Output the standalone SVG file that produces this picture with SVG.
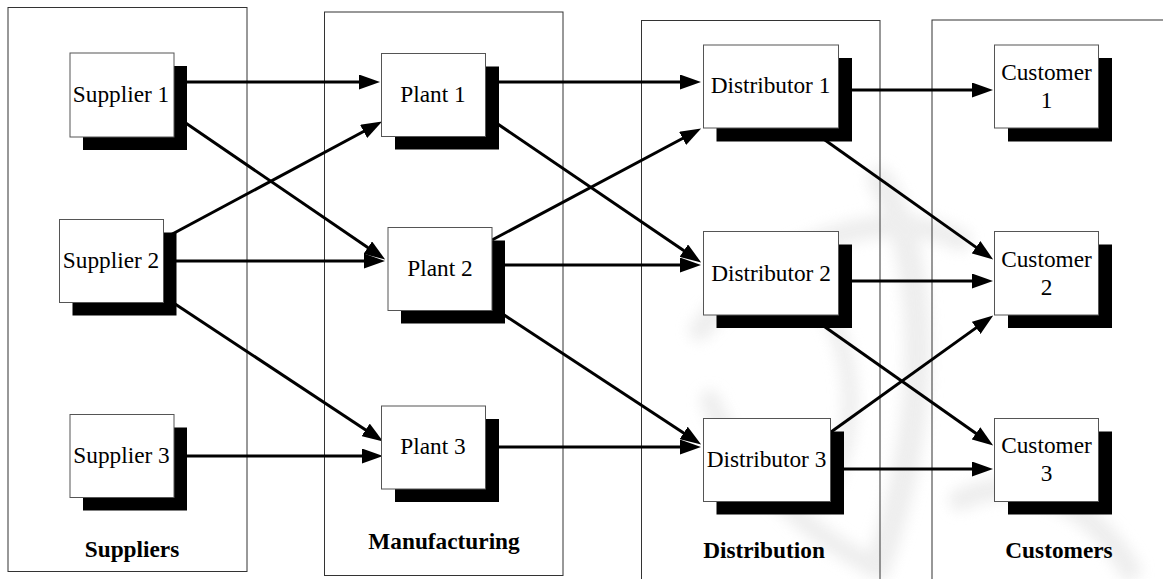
<svg xmlns="http://www.w3.org/2000/svg" width="1163" height="579" viewBox="0 0 1163 579">
  <style>
    .panel { fill: none; stroke: #333; stroke-width: 1; }
    .box { fill: #fff; stroke: #555; stroke-width: 1; }
    .shadow { fill: #000; }
    .lbl { font-family: "Liberation Serif", "Times New Roman", serif; font-size: 23.3px; fill: #000; text-anchor: middle; }
    .title { font-family: "Liberation Serif", "Times New Roman", serif; font-size: 23.3px; font-weight: bold; fill: #000; text-anchor: middle; }
    .conn line { stroke: #000; stroke-width: 3; marker-end: url(#arrow); }
    .seal { fill: none; stroke: #e8e8e8; stroke-linecap: round; }
  </style>
  <defs>
    <marker id="arrow" markerUnits="userSpaceOnUse" markerWidth="21" markerHeight="15" viewBox="0 0 21 15" refX="11" refY="7.5" orient="auto">
      <path d="M0,0 L21,7.5 L0,15 Z" fill="#000"/>
    </marker>
    <filter id="soft" x="-20%" y="-20%" width="140%" height="140%">
      <feGaussianBlur stdDeviation="7"/>
    </filter>
  </defs>
  <rect width="1163" height="579" fill="#fff"/>

  <!-- faint background emblem -->
  <g id="backdrop" class="seal" filter="url(#soft)" opacity="0.75">
    <path d="M700,330 C760,250 880,200 960,240" stroke-width="22"/>
    <path d="M880,180 C930,260 930,420 880,560" stroke-width="26"/>
    <path d="M710,400 C740,470 800,530 880,570" stroke-width="20"/>
    <path d="M960,500 C1020,470 1090,500 1130,570" stroke-width="22"/>
    <path d="M820,300 C860,360 860,440 820,500" stroke-width="16"/>
  </g>

  <!-- stage panels -->
  <g id="stage-suppliers">
    <rect class="panel" x="8" y="7.5" width="239" height="564"/>
    <text class="title" x="132" y="557">Suppliers</text>
  </g>
  <g id="stage-manufacturing">
    <rect class="panel" x="324.5" y="12" width="238.5" height="563.5"/>
    <text class="title" x="444" y="549">Manufacturing</text>
  </g>
  <g id="stage-distribution">
    <rect class="panel" x="641.5" y="20.5" width="238.5" height="570"/>
    <text class="title" x="764" y="558">Distribution</text>
  </g>
  <g id="stage-customers">
    <rect class="panel" x="932" y="20" width="250" height="570"/>
    <text class="title" x="1059" y="558">Customers</text>
  </g>

  <!-- flows between stages -->
  <g id="connectors" class="conn">
    <line x1="174" y1="82" x2="370" y2="82"/>
    <line x1="174" y1="115" x2="376.9" y2="253.8"/>
    <line x1="163" y1="239" x2="373.3" y2="126.2"/>
    <line x1="163" y1="261" x2="375" y2="261"/>
    <line x1="163" y1="296" x2="374.8" y2="435.9"/>
    <line x1="174" y1="456" x2="373" y2="456"/>

    <line x1="486" y1="82" x2="691" y2="82"/>
    <line x1="486" y1="116" x2="692.9" y2="256.8"/>
    <line x1="492" y1="240" x2="692.3" y2="133.2"/>
    <line x1="492" y1="265" x2="691" y2="265"/>
    <line x1="492" y1="307" x2="692.8" y2="439"/>
    <line x1="486" y1="447" x2="691" y2="447"/>

    <line x1="839" y1="90" x2="983" y2="90"/>
    <line x1="808" y1="128" x2="985" y2="253.6"/>
    <line x1="839" y1="281" x2="983" y2="281"/>
    <line x1="808" y1="315" x2="985" y2="439.7"/>
    <line x1="831" y1="432" x2="985.1" y2="321.4"/>
    <line x1="831" y1="469" x2="983" y2="469"/>
  </g>

  <!-- suppliers -->
  <g id="supplier-1">
    <rect class="shadow" x="83" y="66" width="104" height="84"/>
    <rect class="box" x="70" y="53" width="104" height="84"/>
    <text class="lbl" x="121" y="102">Supplier 1</text>
  </g>
  <g id="supplier-2">
    <rect class="shadow" x="72.5" y="232.5" width="104" height="83"/>
    <rect class="box" x="59.5" y="219.5" width="104" height="83"/>
    <text class="lbl" x="111" y="268">Supplier 2</text>
  </g>
  <g id="supplier-3">
    <rect class="shadow" x="83" y="427.5" width="104" height="83"/>
    <rect class="box" x="70" y="414.5" width="104" height="83"/>
    <text class="lbl" x="121.5" y="463">Supplier 3</text>
  </g>

  <!-- plants -->
  <g id="plant-1">
    <rect class="shadow" x="395" y="66.5" width="104" height="83"/>
    <rect class="box" x="381.5" y="53.5" width="104" height="83"/>
    <text class="lbl" x="433" y="102">Plant 1</text>
  </g>
  <g id="plant-2">
    <rect class="shadow" x="401" y="240.5" width="104" height="83"/>
    <rect class="box" x="388" y="227.5" width="104" height="83"/>
    <text class="lbl" x="440" y="276">Plant 2</text>
  </g>
  <g id="plant-3">
    <rect class="shadow" x="395" y="419" width="104" height="83"/>
    <rect class="box" x="381.5" y="406" width="104" height="83"/>
    <text class="lbl" x="433" y="454">Plant 3</text>
  </g>

  <!-- distributors -->
  <g id="distributor-1">
    <rect class="shadow" x="716.5" y="58" width="135.5" height="83.5"/>
    <rect class="box" x="703.5" y="45" width="135" height="83"/>
    <text class="lbl" x="770.5" y="93">Distributor 1</text>
  </g>
  <g id="distributor-2">
    <rect class="shadow" x="716.5" y="244.5" width="135.5" height="83.5"/>
    <rect class="box" x="703.5" y="231.5" width="135" height="83.5"/>
    <text class="lbl" x="771" y="281">Distributor 2</text>
  </g>
  <g id="distributor-3">
    <rect class="shadow" x="716.5" y="431.5" width="127.5" height="83"/>
    <rect class="box" x="703.5" y="418.5" width="127" height="83"/>
    <text class="lbl" x="766.5" y="467">Distributor 3</text>
  </g>

  <!-- customers -->
  <g id="customer-1">
    <rect class="shadow" x="1008" y="58" width="104" height="83.5"/>
    <rect class="box" x="994.5" y="45" width="104" height="83"/>
    <text class="lbl" x="1046.5" y="80">Customer</text>
    <text class="lbl" x="1046.5" y="108">1</text>
  </g>
  <g id="customer-2">
    <rect class="shadow" x="1008" y="244.5" width="104" height="83.5"/>
    <rect class="box" x="994.5" y="231.5" width="104" height="83.5"/>
    <text class="lbl" x="1046.5" y="267">Customer</text>
    <text class="lbl" x="1046.5" y="295">2</text>
  </g>
  <g id="customer-3">
    <rect class="shadow" x="1008" y="431.5" width="104" height="83"/>
    <rect class="box" x="994.5" y="418.5" width="104" height="83"/>
    <text class="lbl" x="1046.5" y="453">Customer</text>
    <text class="lbl" x="1046.5" y="481">3</text>
  </g>
</svg>
